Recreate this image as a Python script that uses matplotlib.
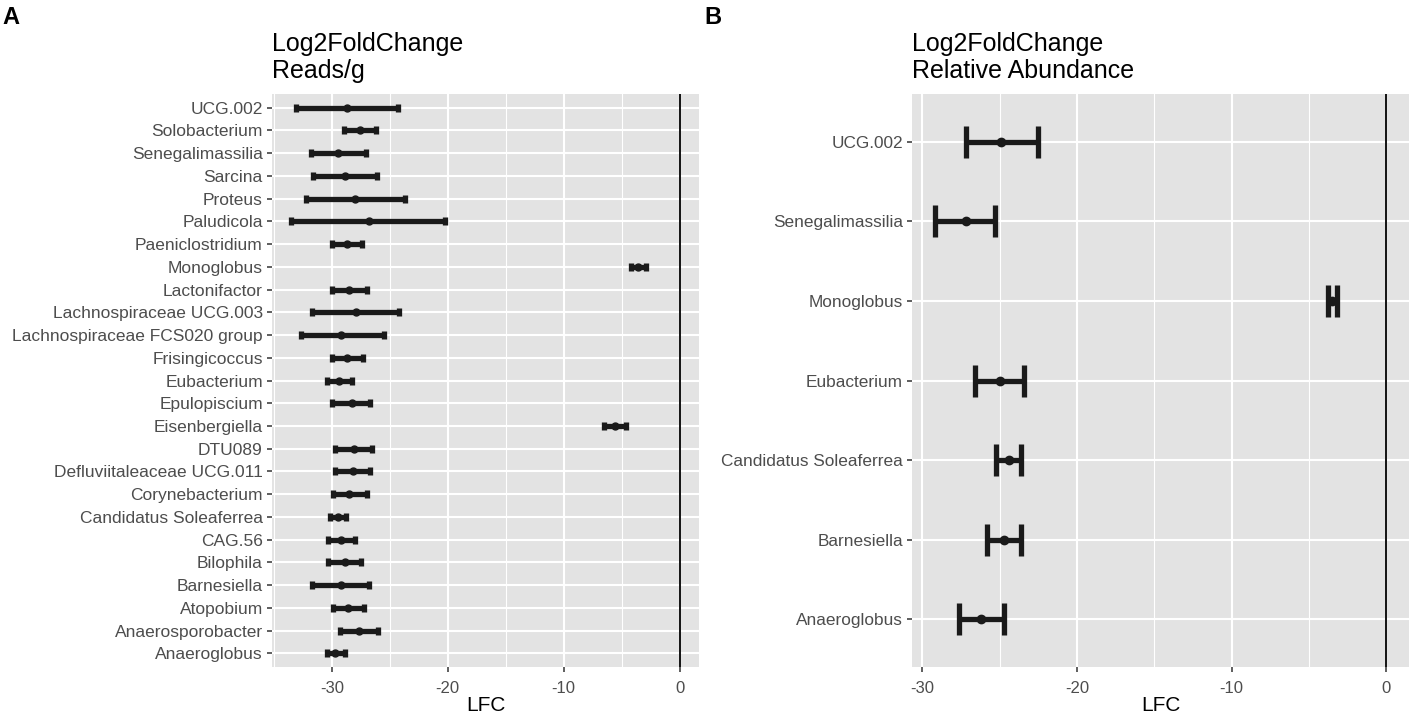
import numpy as np
import matplotlib.pyplot as plt

# Panel A: Log2FoldChange, reads/g (listed bottom to top)
genera_a = ['Anaeroglobus', 'Anaerosporobacter', 'Atopobium', 'Barnesiella', 'Bilophila',
            'CAG.56', 'Candidatus Soleaferrea', 'Corynebacterium', 'Defluviitaleaceae UCG.011',
            'DTU089', 'Eisenbergiella', 'Epulopiscium', 'Eubacterium', 'Frisingicoccus',
            'Lachnospiraceae FCS020 group', 'Lachnospiraceae UCG.003', 'Lactonifactor',
            'Monoglobus', 'Paeniclostridium', 'Paludicola', 'Proteus', 'Sarcina',
            'Senegalimassilia', 'Solobacterium', 'UCG.002']
lfc_a = [-29.7, -27.7, -28.6, -29.2, -28.9, -29.2, -29.5, -28.5, -28.2, -28.1, -5.6, -28.3,
         -29.4, -28.7, -29.2, -27.9, -28.5, -3.55, -28.7, -26.8, -28.0, -28.9, -29.5, -27.6, -28.7]
lo_a = [-30.4, -29.3, -29.9, -31.7, -30.3, -30.3, -30.2, -29.9, -29.7, -29.7, -6.5, -30.0,
        -30.4, -30.0, -32.7, -31.7, -30.0, -4.2, -30.0, -33.5, -32.2, -31.6, -31.8, -29.0, -33.1]
hi_a = [-28.9, -26.0, -27.2, -26.8, -27.5, -28.0, -28.8, -27.0, -26.7, -26.5, -4.65, -26.7,
        -28.3, -27.3, -25.5, -24.2, -27.0, -2.9, -27.4, -20.2, -23.7, -26.1, -27.1, -26.2, -24.3]

# Panel B: Log2FoldChange, relative abundance (listed bottom to top)
genera_b = ['Anaeroglobus', 'Barnesiella', 'Candidatus Soleaferrea', 'Eubacterium',
            'Monoglobus', 'Senegalimassilia', 'UCG.002']
lfc_b = [-26.2, -24.7, -24.4, -25.0, -3.5, -27.2, -24.9]
lo_b = [-27.6, -25.8, -25.2, -26.6, -3.8, -29.2, -27.2]
hi_b = [-24.7, -23.6, -23.6, -23.4, -3.2, -25.3, -22.5]

plt.rcParams['font.family'] = ['Liberation Sans', 'DejaVu Sans']
plt.rcParams['axes.unicode_minus'] = False


def draw_panel(ax, genera, lfc, lo, hi, title, capsize, ms, tick_size):
    lfc = np.array(lfc)
    lo = np.array(lo)
    hi = np.array(hi)
    y = np.arange(1, len(genera) + 1)

    ax.set_facecolor('#E3E3E3')
    for s in ax.spines.values():
        s.set_visible(False)

    ax.axvline(0, color='black', lw=1.3, zorder=2)
    ax.errorbar(lfc, y, xerr=[lfc - lo, hi - lfc], fmt='o', color='#1a1a1a',
                ecolor='#1a1a1a', elinewidth=3.8, capsize=capsize, capthick=3.8,
                markersize=ms, zorder=3)

    # ggplot-like 5% expansion, then freeze so the ticks don't widen it
    ax.margins(x=0.05)
    xlim = ax.get_xlim()
    ax.set_xticks([-30, -20, -10, 0])
    ax.set_xticks([v for v in [-35, -25, -15, -5] if v > xlim[0]], minor=True)
    ax.set_xlim(xlim)
    ax.set_ylim(0.4, len(genera) + 0.6)
    ax.set_yticks(y)
    ax.set_yticklabels(genera)

    ax.grid(True, which='major', color='white', lw=1.5, zorder=0)
    ax.grid(True, which='minor', axis='x', color='white', lw=0.8, zorder=0)
    ax.set_axisbelow(True)

    ax.tick_params(which='major', length=3.6, width=1.1, color='#333333',
                   labelcolor='#4D4D4D', pad=3)
    ax.tick_params(axis='y', labelsize=tick_size)
    ax.tick_params(axis='x', labelsize=12, pad=6.5)
    ax.tick_params(which='minor', length=0)
    ax.set_xlabel('LFC', fontsize=15, labelpad=0)
    ax.text(0, 1 + 16.5 / 573, title, transform=ax.transAxes, ha='left', va='baseline',
            fontsize=18, linespacing=1.12)


fig = plt.figure(figsize=(14.1, 7.16), dpi=100)
ax_a = fig.add_axes([0.1929, 0.0684, 0.3028, 0.8003])
ax_b = fig.add_axes([0.6468, 0.0684, 0.3525, 0.8003])

draw_panel(ax_a, genera_a, lfc_a, lo_a, hi_a, 'Log2FoldChange\nReads/g', 3.0, 5, 12.5)
draw_panel(ax_b, genera_b, lfc_b, lo_b, hi_b, 'Log2FoldChange\nRelative Abundance', 11.2, 6, 12.4)

fig.text(0.002, 1 - 24 / 716, 'A', fontsize=17, fontweight='bold', va='baseline', ha='left')
fig.text(0.4995, 1 - 24 / 716, 'B', fontsize=17, fontweight='bold', va='baseline', ha='left')

fig.savefig('out.png', dpi=100)
